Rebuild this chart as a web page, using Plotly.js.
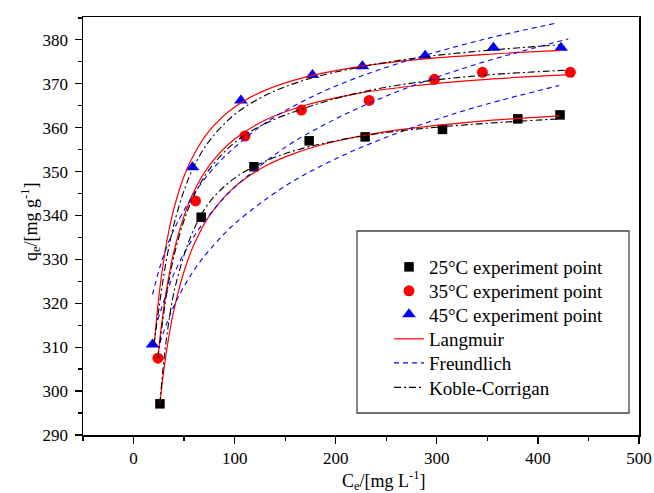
<!DOCTYPE html>
<html>
<head>
<meta charset="utf-8">
<script src="https://cdn.plot.ly/plotly-3.0.1.min.js"></script>
<style>html,body{margin:0;padding:0;background:#fff;}#chart{width:654px;height:493px;}</style>
</head>
<body>
<div id="chart"></div>
<script>
// Experimental points
const ce25 = [26.1, 66.9, 119.1, 173.7, 229.1, 305.6, 380.1, 421.9];
const qe25 = [297.1, 339.6, 351.1, 357.0, 357.9, 359.6, 362.0, 362.9];
const ce35 = [24.1, 61.3, 110.2, 166.1, 233.1, 297.6, 345.1, 432.1];
const qe35 = [307.5, 343.3, 358.1, 364.0, 366.2, 371.0, 372.6, 372.6];
const ce45 = [18.8, 58.3, 106.2, 177.0, 226.4, 288.4, 356.0, 422.9];
const qe45 = [310.6, 351.0, 366.2, 372.0, 374.0, 376.4, 378.2, 378.2];

// Langmuir curves
const langX25 = [26, 30, 35, 40, 50, 60, 75, 100, 130, 160, 200, 250, 300, 350, 421];
const langY25 = [297.0, 304.9, 312.5, 318.5, 327.3, 333.5, 339.9, 346.5, 351.2, 354.2, 356.9, 359.1, 360.5, 361.6, 362.7];
const langX35 = [24, 28, 33, 40, 50, 60, 75, 100, 130, 170, 220, 280, 350, 428];
const langY35 = [307.4, 315.7, 323.7, 331.9, 339.9, 345.6, 351.4, 357.4, 361.7, 365.1, 367.7, 369.6, 371.0, 372.0];
const langX45 = [20.5, 24, 28, 33, 40, 50, 60, 75, 100, 130, 170, 220, 280, 350, 423];
const langY45 = [310.6, 319.3, 326.9, 334.2, 341.6, 349.0, 354.0, 359.3, 364.7, 368.5, 371.5, 373.8, 375.5, 376.7, 377.6];

// Freundlich curves
const freX25 = [26, 40, 60, 80, 100, 150, 200, 250, 300, 350, 421];
const freY25 = [311.0, 319.4, 327.6, 333.4, 338.1, 346.7, 352.9, 357.8, 361.9, 365.4, 369.6];
const freX35 = [24, 40, 60, 80, 100, 150, 200, 250, 300, 350, 430];
const freY35 = [316.2, 326.7, 335.3, 341.5, 346.4, 355.5, 362.0, 367.2, 371.5, 375.2, 380.2];
const freX45 = [18.8, 25, 30, 40, 60, 80, 100, 130, 170, 220, 280, 350, 420];
const freY45 = [322.0, 327.4, 331.0, 336.8, 345.0, 351.0, 355.5, 361.0, 366.3, 371.3, 375.9, 380.3, 383.9];

// Koble-Corrigan curves
const kcX25 = [26, 30, 35, 40, 50, 60, 75, 100, 130, 160, 200, 250, 300, 350, 421];
const kcY25 = [297.0, 307.0, 316.0, 322.5, 331.0, 337.0, 343.0, 348.5, 352.3, 354.8, 357.0, 358.9, 360.1, 361.0, 362.0];
const kcX35 = [24, 28, 33, 40, 50, 60, 75, 100, 130, 170, 220, 280, 350, 430];
const kcY35 = [307.5, 314.5, 322.5, 330.8, 338.9, 344.6, 350.5, 356.6, 360.9, 364.5, 367.8, 370.3, 372.0, 373.1];
const kcX45 = [20, 24, 28, 33, 40, 50, 60, 75, 100, 130, 170, 220, 280, 350, 424];
const kcY45 = [310.5, 317.0, 323.5, 330.5, 338.0, 345.7, 351.3, 357.0, 363.0, 367.3, 370.9, 373.6, 375.9, 377.6, 378.9];

const pointNames = ['25\u00B0C experiment point', '35\u00B0C experiment point', '45\u00B0C experiment point'];
const modelNames = ['Langmuir', 'Freundlich', 'Koble-Corrigan'];

const FONT = 'Liberation Serif, Times New Roman, serif';

const traces = [
  {x: ce25, y: qe25, mode: 'markers', type: 'scatter', name: pointNames[0], legend: 'legend',
   marker: {symbol: 'square', size: 9.5, color: '#000000'}},
  {x: ce35, y: qe35, mode: 'markers', type: 'scatter', name: pointNames[1], legend: 'legend2',
   marker: {symbol: 'circle', size: 11, color: '#ff0000'}},
  {x: ce45, y: qe45, mode: 'markers', type: 'scatter', name: pointNames[2], legend: 'legend3',
   marker: {symbol: 'triangle-up', size: 12, color: '#0000ff'}}
];

const redLine = {color: '#ff0000', width: 1.2, shape: 'spline'};
const blueLine = {color: '#0000ff', width: 1.1, dash: '5px,4px', shape: 'spline'};
const blackLine = {color: '#000000', width: 1.1, dash: '7px,3px,2px,3px', shape: 'spline'};

[[langX25, langY25], [langX35, langY35], [langX45, langY45]].forEach((d, i) => {
  traces.push({x: d[0], y: d[1], mode: 'lines', type: 'scatter', name: modelNames[0],
    showlegend: i === 0, legend: 'legend4', line: redLine});
});
[[freX25, freY25], [freX35, freY35], [freX45, freY45]].forEach((d, i) => {
  traces.push({x: d[0], y: d[1], mode: 'lines', type: 'scatter', name: modelNames[1],
    showlegend: i === 0, legend: 'legend5', line: blueLine});
});
[[kcX25, kcY25], [kcX35, kcY35], [kcX45, kcY45]].forEach((d, i) => {
  traces.push({x: d[0], y: d[1], mode: 'lines', type: 'scatter', name: modelNames[2],
    showlegend: i === 0, legend: 'legend6', line: blackLine});
});

const L = 83, R = 15, T = 17, B = 58, W = 654, H = 493;
const pw = W - L - R, ph = H - T - B;
const px = v => (v - L) / pw;
const py = v => (H - B - v) / ph;

function leg(rowY) {
  return {
    x: px(389), y: py(rowY), xanchor: 'left', yanchor: 'middle',
    bgcolor: 'rgba(0,0,0,0)', borderwidth: 0,
    font: {family: FONT, size: 19, color: '#000'}
  };
}

const layout = {
  width: W, height: H,
  margin: {l: L, r: R, t: T, b: B, pad: 0},
  paper_bgcolor: '#ffffff', plot_bgcolor: '#ffffff',
  font: {family: FONT, size: 17, color: '#000'},
  showlegend: true,
  legend: leg(267),
  legend2: leg(291),
  legend3: leg(314.5),
  legend4: leg(339),
  legend5: leg(363),
  legend6: leg(387.5),
  xaxis: {
    range: [-50, 500], dtick: 100, tick0: 0,
    ticks: 'outside', ticklen: 7, tickwidth: 1.3, tickcolor: '#000',
    minor: {dtick: 50, ticks: 'outside', ticklen: 4, tickwidth: 1.3, tickcolor: '#000'},
    showline: true, linecolor: '#000', linewidth: 1.5, mirror: true,
    showgrid: false, zeroline: false,
    tickfont: {family: FONT, size: 17, color: '#000'}
  },
  yaxis: {
    range: [290, 385.2], dtick: 10, tick0: 290,
    ticks: 'outside', ticklen: 7, tickwidth: 1.3, tickcolor: '#000',
    minor: {dtick: 5, ticks: 'outside', ticklen: 4, tickwidth: 1.3, tickcolor: '#000'},
    showline: true, linecolor: '#000', linewidth: 1.5, mirror: true,
    showgrid: false, zeroline: false, ticklabelstandoff: 3,
    tickfont: {family: FONT, size: 17, color: '#000'}
  },
  shapes: [{
    type: 'rect', xref: 'paper', yref: 'paper',
    x0: px(357), x1: px(629), y0: py(413), y1: py(231),
    line: {color: '#444', width: 1.3}, fillcolor: 'rgba(0,0,0,0)', layer: 'above'
  }],
  annotations: [
    {text: 'C<sub>e</sub>/[mg L<sup>-1</sup>]', xref: 'paper', yref: 'paper',
     x: px(384), y: py(480), xanchor: 'center', yanchor: 'middle', showarrow: false,
     font: {family: FONT, size: 18, color: '#000'}},
    {text: 'q<sub>e</sub>/[mg g<sup>-1</sup>]', xref: 'paper', yref: 'paper',
     x: px(31), y: py(222), xanchor: 'center', yanchor: 'middle', showarrow: false,
     textangle: -90, font: {family: FONT, size: 18, color: '#000'}}
  ]
};

Plotly.newPlot('chart', traces, layout, {displayModeBar: false, staticPlot: true});
</script>
</body>
</html>
